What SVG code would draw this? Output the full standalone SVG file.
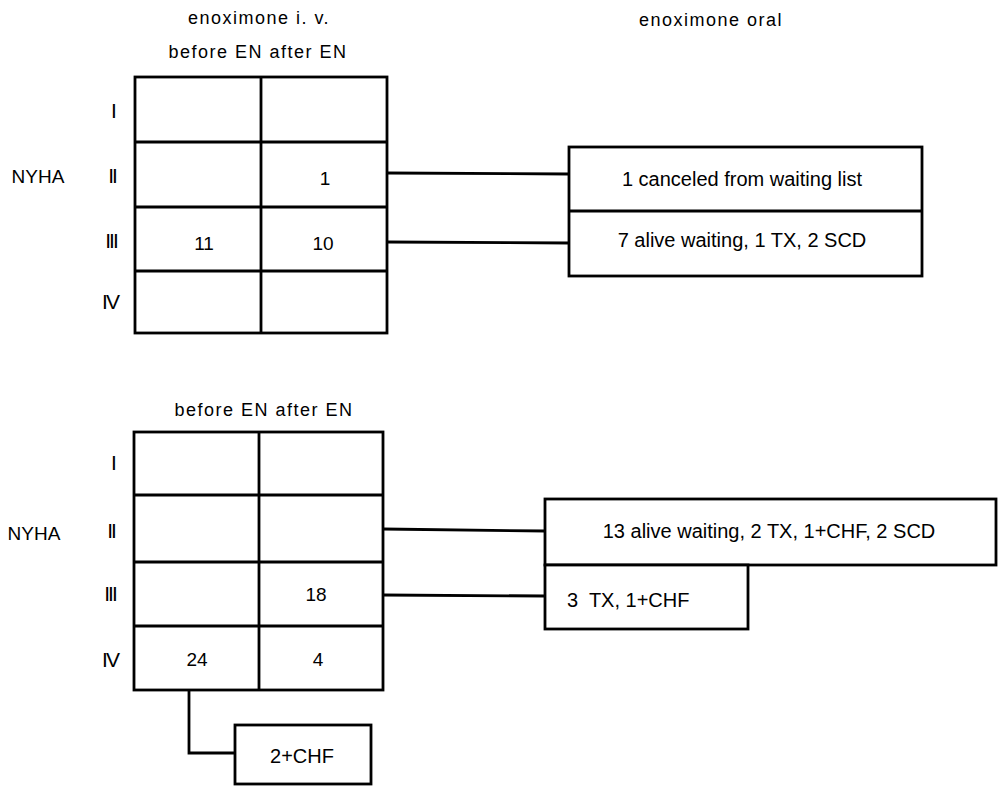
<svg xmlns="http://www.w3.org/2000/svg" width="998" height="787" viewBox="0 0 998 787">
<style>
text{font-family:"Liberation Sans","Noto Sans",Arial,sans-serif;fill:#000}
.hdr{font-size:18px;letter-spacing:1.5px;text-anchor:middle}
.num{font-size:19px;text-anchor:middle}
.rl{font-size:21px;text-anchor:middle;letter-spacing:-2px}
.ny{font-size:19px;text-anchor:middle}
.bx{font-size:20px;text-anchor:middle}
.box{fill:#fff;stroke:#000;stroke-width:2.8}
.ln{fill:none;stroke:#000;stroke-width:2.8}
</style>
<rect width="998" height="787" fill="#fff"/>

<g id="headers">
<text class="hdr" x="259" y="24">enoximone i. v.</text>
<text class="hdr" x="258" y="58">before EN after EN</text>
<text class="hdr" x="711" y="26">enoximone oral</text>
<text class="hdr" x="264" y="416">before EN after EN</text>
</g>

<g id="top-table">
<rect class="box" x="135" y="77" width="252" height="256"/>
<path class="ln" d="M261 77V333M135 142H387M135 207H387M135 271H387"/>
<text class="num" x="325" y="185">1</text>
<text class="num" x="204" y="250">11</text>
<text class="num" x="323" y="250">10</text>
<text class="ny" x="38" y="183">NYHA</text>
<text class="rl" x="113" y="118">I</text>
<text class="rl" x="112" y="183">II</text>
<text class="rl" x="111" y="248">III</text>
<text class="rl" x="110" y="309">IV</text>
</g>

<g id="bottom-table">
<rect class="box" x="134" y="432" width="249" height="258"/>
<path class="ln" d="M259 432V690M134 495H383M134 562H383M134 626H383"/>
<text class="num" x="316" y="601">18</text>
<text class="num" x="197" y="666">24</text>
<text class="num" x="318" y="666">4</text>
<text class="ny" x="34" y="540">NYHA</text>
<text class="rl" x="113" y="470">I</text>
<text class="rl" x="111" y="538">II</text>
<text class="rl" x="110" y="601">III</text>
<text class="rl" x="110" y="667">IV</text>
</g>

<g id="oral-top">
<rect class="box" x="569" y="147" width="353" height="129"/>
<path class="ln" d="M569 211H922"/>
<text class="bx" x="742" y="186">1 canceled from waiting list</text>
<text class="bx" x="742" y="247">7 alive waiting, 1 TX, 2 SCD</text>
</g>

<g id="oral-bottom-wide">
<rect class="box" x="545" y="499" width="451" height="66"/>
<text class="bx" x="769" y="538">13 alive waiting, 2 TX, 1+CHF, 2 SCD</text>
</g>

<g id="oral-bottom-small">
<rect class="box" x="545" y="565" width="203" height="64"/>
<text class="bx" x="567" y="607" style="text-anchor:start;white-space:pre" xml:space="preserve">3  TX, 1+CHF</text>
</g>

<g id="chf-box">
<rect class="box" x="235" y="725" width="136" height="59"/>
<text class="bx" x="302" y="763">2+CHF</text>
</g>

<g id="connectors">
<path class="ln" d="M387 173L569 174"/>
<path class="ln" d="M387 242L569 243"/>
<path class="ln" d="M383 529L545 531"/>
<path class="ln" d="M383 595L545 596"/>
<path class="ln" d="M189 690V753H235"/>
</g>
</svg>
